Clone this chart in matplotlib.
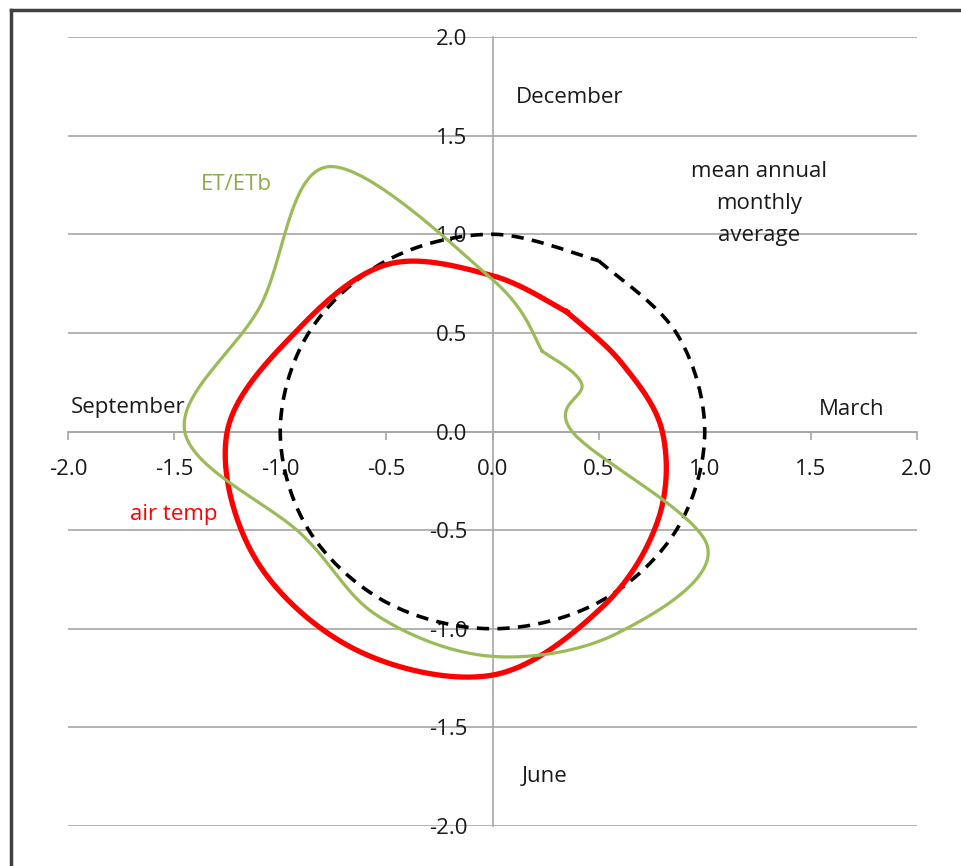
import numpy as np
import matplotlib
matplotlib.use("Agg")
import matplotlib.pyplot as plt
from matplotlib.lines import Line2D

plt.rcParams['font.family'] = ['Open Sans', 'DejaVu Sans']

# Monthly values relative to the annual monthly mean (1.0 = mean), Jan..Dec
months = ["Jan", "Feb", "Mar", "Apr", "May", "Jun",
          "Jul", "Aug", "Sep", "Oct", "Nov", "Dec"]
mean_ratio = [1.0, 1.0, 1.0, 1.0, 1.0, 1.0, 1.0, 1.0, 1.0, 1.0, 1.0, 1.0]
air_temp_ratio = [0.70, 0.70, 0.80, 0.90, 1.03, 1.235, 1.28, 1.29, 1.25, 1.05, 0.98, 0.79]
et_etb_ratio = [0.47, 0.485, 0.375, 1.17, 1.18, 1.14, 1.08, 1.04, 1.45, 1.265, 1.55, 0.77]

tick_values = [-2.0, -1.5, -1.0, -0.5, 0.0, 0.5, 1.0, 1.5, 2.0]
tick_labels = ["-2.0", "-1.5", "-1.0", "-0.5", "0.0", "0.5", "1.0", "1.5", "2.0"]

season_labels = ["December", "March", "June", "September"]


def to_xy(ratios):
    """Month m sits at angle 30*m degrees clockwise from the top (Dec at top).
    The loop starts at January and returns to January."""
    r = np.asarray(list(ratios) + [ratios[0]], dtype=float)
    m = np.asarray(list(range(1, 13)) + [1], dtype=float)
    theta = 2 * np.pi * m / 12.0
    return r * np.sin(theta), r * np.cos(theta)


def smooth(x, y, n=40):
    """Bezier smoothing through the points (Catmull-Rom style tangents)."""
    p = np.column_stack([x, y])
    pad = np.vstack([p[0], p, p[-1]])
    out = []
    for i in range(len(p) - 1):
        p0, p1, p2, p3 = pad[i], pad[i + 1], pad[i + 2], pad[i + 3]
        c1 = p1 + (p2 - p0) / 6.0
        c2 = p2 - (p3 - p1) / 6.0
        t = np.linspace(0, 1, n, endpoint=(i == len(p) - 2))[:, None]
        seg = ((1 - t) ** 3) * p1 + 3 * ((1 - t) ** 2) * t * c1 \
            + 3 * (1 - t) * t ** 2 * c2 + t ** 3 * p2
        out.append(seg)
    out = np.vstack(out)
    return out[:, 0], out[:, 1]


fig = plt.figure(figsize=(9.61, 8.66), dpi=100)
ax = fig.add_axes([68 / 961, 40 / 866, 849 / 961, 789 / 866])

ax.set_xlim(-2, 2)
ax.set_ylim(-2, 2)

grid_col = "#a6a6a6"
for yv in tick_values:
    ax.axhline(yv, color=grid_col, lw=1.2, zorder=1)

for side in ("top", "right"):
    ax.spines[side].set_visible(False)
ax.spines["bottom"].set_position(("data", 0))
ax.spines["left"].set_position(("data", 0))
for side in ("bottom", "left"):
    ax.spines[side].set_color(grid_col)
    ax.spines[side].set_linewidth(1.2)
    ax.spines[side].set_zorder(1)

fs = 16
ax.set_xticks(tick_values)
ax.set_xticklabels(tick_labels)
ax.set_yticks(tick_values)
ax.set_yticklabels(tick_labels)
ax.tick_params(axis="x", direction="out", length=6, width=1.2, color=grid_col,
               labelsize=fs, pad=14, labelcolor="#1a1a1a")
ax.tick_params(axis="y", length=0, labelsize=fs, pad=18, labelcolor="#1a1a1a")

# mean annual monthly average (dashed), air temperature, ET/ETb
mx, my = smooth(*to_xy(mean_ratio))
ax.plot(mx, my, color="black", lw=2.6, dashes=(3.4, 2.3), zorder=3,
        solid_capstyle="butt", dash_capstyle="butt")

tx, ty = smooth(*to_xy(air_temp_ratio))
ax.plot(tx, ty, color="#ff0000", lw=3.8, zorder=4, solid_joinstyle="round")

ex, ey = smooth(*to_xy(et_etb_ratio))
ax.plot(ex, ey, color="#9bbb59", lw=2.3, zorder=5, solid_joinstyle="round")

text_kw = dict(fontsize=fs, color="#1a1a1a", ha="center", va="center")
ax.text(0.365, 1.695, season_labels[0], **text_kw)
ax.text(1.694, 0.11, season_labels[1], **text_kw)
ax.text(0.247, -1.75, season_labels[2], **text_kw)
ax.text(-1.717, 0.12, season_labels[3], **text_kw)
ax.text(1.255, 1.155, "mean annual\nmonthly\naverage", linespacing=1.7, **text_kw)
ax.text(-1.208, 1.252, "ET/ETb", fontsize=fs, color="#8aab4b", ha="center", va="center")
ax.text(-1.50, -0.42, "air temp", fontsize=fs, color="#ff0000", ha="center", va="center")

# chart frame edges
fig.add_artist(Line2D([10.5 / 961, 10.5 / 961], [0, 1 - 10 / 866], color="#404040", lw=2.5))
fig.add_artist(Line2D([10.5 / 961, 1], [1 - 10 / 866, 1 - 10 / 866], color="#404040", lw=2.5))

fig.savefig("out.png", dpi=100)
